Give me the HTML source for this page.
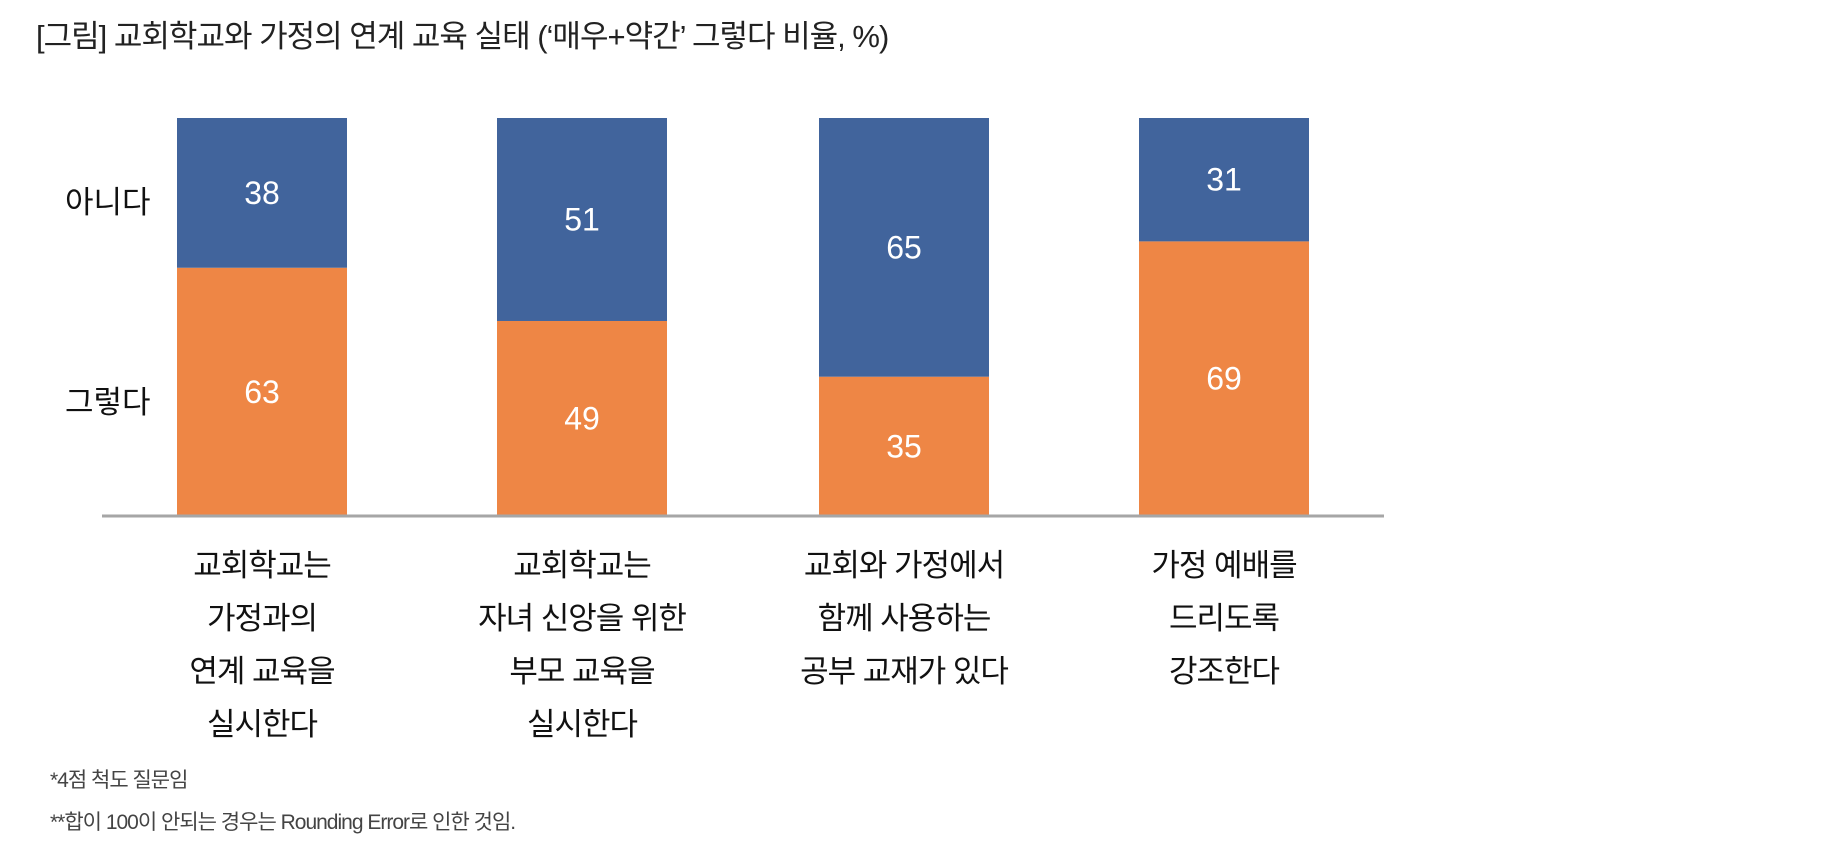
<!DOCTYPE html>
<html><head><meta charset="utf-8"><style>
body{margin:0;width:1842px;height:862px;background:#fff;overflow:hidden;font-family:"Liberation Sans","Noto Sans CJK KR",sans-serif;}
svg text{font-family:"Liberation Sans","Noto Sans CJK KR",sans-serif;}
</style></head><body>
<svg id="chart" width="1842" height="862">
<text x="36" y="47" font-size="31" fill="#222" letter-spacing="-1">[그림] 교회학교와 가정의 연계 교육 실태 (‘매우+약간’ 그렇다 비율, %)</text>
<text x="65" y="213" font-size="31" fill="#111">아니다</text>
<text x="65" y="413" font-size="31" fill="#111">그렇다</text>
<g id="bars"></g>
<line x1="102" y1="516" x2="1384" y2="516" stroke="#a6a6a6" stroke-width="3"/>
<g id="cats"></g>
<text x="50" y="787" font-size="21" fill="#444" letter-spacing="-1">*4점 척도 질문임</text>
<text x="50" y="829" font-size="21" fill="#444" letter-spacing="-1">**합이 100이 안되는 경우는 Rounding Error로 인한 것임.</text>
</svg>
<script>
const categories=[["교회학교는","가정과의","연계 교육을","실시한다"],["교회학교는","자녀 신앙을 위한","부모 교육을","실시한다"],["교회와 가정에서","함께 사용하는","공부 교재가 있다"],["가정 예배를","드리도록","강조한다"]];
const yesValues=[63,49,35,69];
const noValues=[38,51,65,31];
const NS="http://www.w3.org/2000/svg";
const top0=118,base=516,barW=170;
const centers=[262,582,904,1224];
function y(v){return base-(base-top0)*v/100;}
function mk(t,a,p){const e=document.createElementNS(NS,t);for(const k in a)e.setAttribute(k,a[k]);p.appendChild(e);return e;}
const bars=document.getElementById('bars'),cats=document.getElementById('cats');
categories.forEach((c,i)=>{
  const cx=centers[i],x=cx-barW/2;
  const tot=yesValues[i]+noValues[i];
  const yy=y(yesValues[i]*100/tot);
  const r1=mk('rect',{x:x,y:yy,width:barW,height:base-yy,fill:'#ee8645'},bars);
  
  
  const r2=mk('rect',{x:x,y:top0,width:barW,height:yy-top0,fill:'#41649c'},bars);
  
  
  const t1=mk('text',{x:cx,y:(yy+base)/2+11,'font-size':32,fill:'#fff','text-anchor':'middle'},bars);
  t1.textContent=yesValues[i];
  
  
  const t2=mk('text',{x:cx,y:(yy+top0)/2+11,'font-size':32,fill:'#fff','text-anchor':'middle'},bars);
  t2.textContent=noValues[i];
  
  
  c.forEach((ln,j)=>{
    const t=mk('text',{x:cx,y:576+j*53,'font-size':31,fill:'#111','text-anchor':'middle','letter-spacing':'-1'},cats);
    t.textContent=ln;
    
    
  });
});
</script>
</body></html>
